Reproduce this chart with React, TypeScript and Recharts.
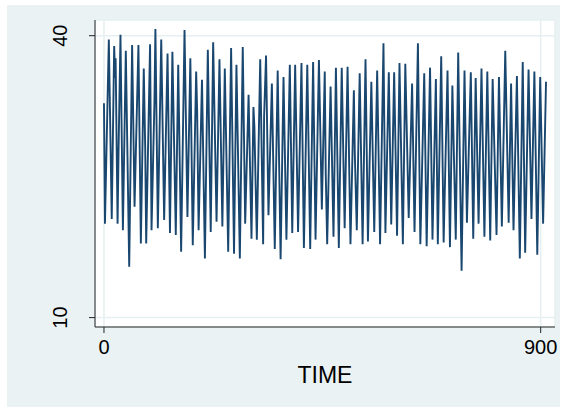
import React from 'react';
import { LineChart, Line, XAxis, YAxis, CartesianGrid } from 'recharts';

// turning points (and a few visible kinks) of the series
const TIME = [
  0, 2, 10, 16, 21, 23, 24, 28, 30, 34, 39, 45, 52, 58, 63, 71, 76, 82, 85, 87, 95, 98, 104, 106, 111,
  118, 124, 131, 136, 141, 148, 153, 159, 166, 172, 178, 183, 190, 192, 195, 202, 208, 214, 220, 225, 232,
  238, 244, 249, 256, 262, 268, 273, 280, 286, 291, 298, 304, 308, 310, 315, 322, 328, 330, 334, 339, 346, 352,
  358, 364, 370, 376, 383, 388, 394, 400, 407, 412, 419, 425, 431, 436, 443, 449, 455, 457, 460, 467, 473,
  478, 484, 490, 496, 502, 508, 515, 517, 521, 527, 533, 539, 544, 551, 557, 563, 569, 576, 580, 587, 592,
  598, 604, 609, 616, 621, 628, 635, 640, 647, 652, 660, 665, 672, 677, 684, 688, 695, 700, 708, 713,
  718, 725, 730, 737, 743, 748, 756, 761, 766, 772, 778, 784, 790, 796, 801, 809, 814, 820, 827, 834,
  839, 844, 851, 857, 863, 868, 875, 881, 887, 893, 899, 905, 911,
];

const VALUE = [
  32.8, 20.0, 39.6, 20.5, 38.9, 35.5, 37.6, 20.0, 27.5, 40.1, 19.3, 38.4, 15.4, 39.0, 21.8, 39.0, 17.9, 36.5, 28.0, 17.9, 39.1, 19.3, 33.0, 40.7, 19.5,
  39.6, 20.4, 38.1, 19.0, 38.3, 18.8, 36.9, 17.0, 40.6, 20.7, 37.6, 17.7, 36.2, 32.0, 19.3, 35.3, 16.3, 38.5, 19.1, 39.3, 20.2,
  37.5, 19.7, 36.5, 17.0, 38.7, 16.8, 36.9, 16.3, 38.8, 20.0, 33.7, 18.4, 32.4, 30.3, 18.3, 37.5, 17.8, 31.4, 37.9, 20.9, 34.9, 17.3,
  36.3, 16.2, 35.6, 18.3, 36.9, 19.0, 36.9, 19.1, 37.1, 17.4, 36.9, 17.3, 37.2, 18.3, 37.4, 21.5, 36.2, 25.4, 17.8, 34.6, 18.6,
  36.6, 17.4, 36.6, 19.5, 36.7, 17.8, 34.2, 27.3, 19.3, 36.0, 17.8, 37.5, 18.1, 35.1, 19.1, 36.3, 17.8, 39.2, 19.0, 36.1, 19.9,
  36.1, 18.7, 37.1, 17.8, 37.0, 20.6, 34.9, 19.1, 39.2, 17.8, 36.0, 17.6, 36.6, 18.3, 35.4, 17.8, 37.8, 18.0, 36.3, 17.5,
  34.7, 18.3, 38.2, 15.0, 36.3, 20.1, 36.1, 18.4, 35.5, 20.0, 36.5, 18.6, 36.2, 18.2, 35.4, 18.8, 35.6, 19.7, 38.4, 20.1,
  34.9, 19.3, 35.7, 16.3, 37.2, 16.9, 36.4, 20.5, 36.2, 16.7, 35.6, 20.0, 35.1,
];

const X_TICKS = [0, 900];
const Y_TICKS = [10, 40];

const data = TIME.map((t, i) => ({ time: t, value: VALUE[i] }));

const FONT = '"Liberation Sans", Arial, sans-serif';
const AXIS = '#222';
const GRID = '#e6eff1';

const YTick = (props: any) => {
  const { x, y, payload } = props;
  const bx = x - 20;
  return (
    <text x={bx} y={y} transform={`rotate(-90, ${bx}, ${y})`} textAnchor="middle"
      fontFamily={FONT} fontSize={20} fill="#000">
      {payload.value}
    </text>
  );
};

const XTick = (props: any) => {
  const { x, y, payload } = props;
  return (
    <text x={x} y={y} dy={19} textAnchor="middle" fontFamily={FONT} fontSize={20} fill="#000">
      {payload.value}
    </text>
  );
};

export default function App() {
  return (
    <div style={{ position: 'fixed', left: 0, top: 0, width: 564, height: 411, background: '#fff' }}>
      <div style={{ position: 'absolute', left: 7, top: 5, width: 553, height: 402, background: '#eaf2f3' }} />
      <div style={{ position: 'absolute', left: 0, top: 0 }}>
        <LineChart width={564} height={411} data={data} margin={{ top: 20, right: 9, left: 0, bottom: 0 }}>
          <CartesianGrid fill="#fff" fillOpacity={1} stroke={GRID} strokeWidth={1.5} />
          <XAxis
            dataKey="time"
            type="number"
            domain={[-18.5, 929.5]}
            ticks={X_TICKS}
            allowDataOverflow
            height={84}
            tickSize={6}
            tickMargin={2}
            stroke={AXIS}
            tick={<XTick />}
            label={{ value: 'TIME', position: 'insideBottom', offset: 28, fontSize: 23, fill: '#000', fontFamily: FONT }}
          />
          <YAxis
            type="number"
            domain={[9.0, 41.67]}
            ticks={Y_TICKS}
            allowDataOverflow
            width={95}
            tickSize={6}
            tickMargin={2}
            stroke={AXIS}
            tick={<YTick />}
          />
          <Line
            type="linear"
            dataKey="value"
            stroke="#1a476f"
            strokeWidth={1.9}
            dot={false}
            isAnimationActive={false}
          />
        </LineChart>
      </div>
    </div>
  );
}
